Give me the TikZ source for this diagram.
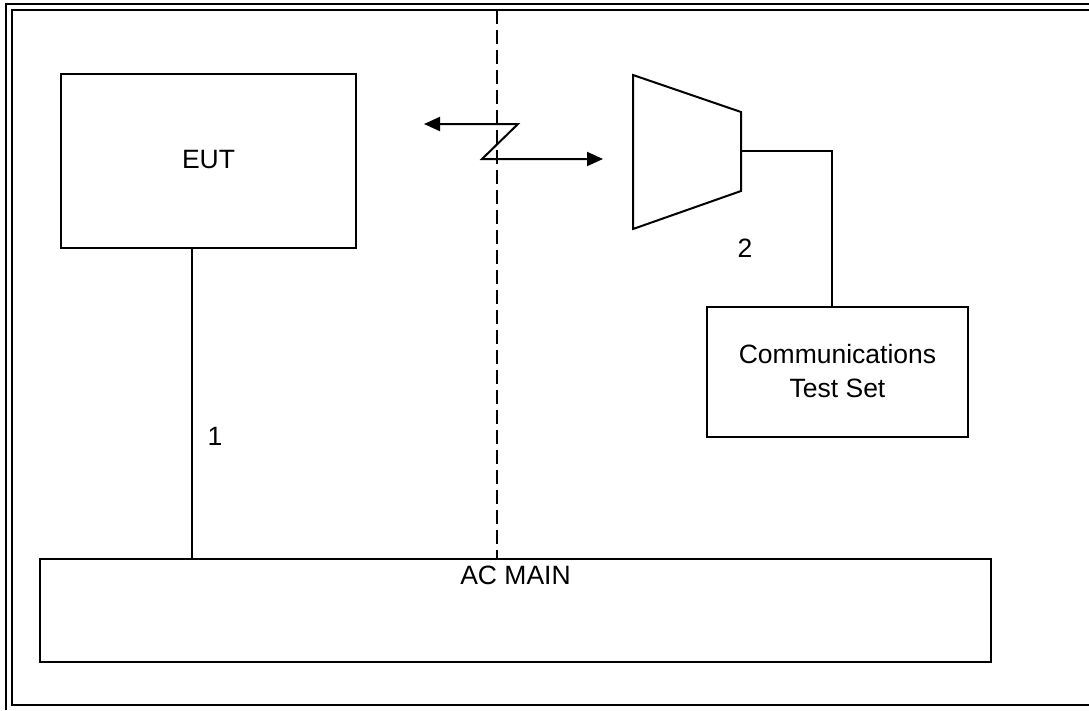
\documentclass[tikz,border=0pt]{standalone}
\usepackage{fontspec}
\setmainfont{Liberation Sans}
\usetikzlibrary{arrows.meta,positioning,calc}

\begin{document}
\begin{tikzpicture}[
  x=1pt, y=-1pt,
  box/.style={draw, line width=2pt, align=center, inner sep=0pt, font=\fontsize{26.5}{34}\selectfont},
  note/.style={align=center, inner sep=0pt, font=\fontsize{26.5}{34}\selectfont},
  wire/.style={line width=1.9pt},
  frame/.style={line width=2.2pt},
  arr/.style={{Triangle[length=16pt,width=14pt]}-{Triangle[length=16pt,width=14pt]}, line width=2pt}
]
\useasboundingbox (0,0) rectangle (1089,710);

% page frame
\draw[frame] (6,710) -- (6,4) -- (1089,4);
\draw[frame] (1089,705) -- (12,705) -- (12,10) -- (1089,10);

% boxes
\node[box, minimum width=295pt, minimum height=174pt] (eut) at (208.5,161) {\raisebox{4pt}{EUT}};
\node[box, minimum width=261pt, minimum height=130pt] (cts) at (837.5,371.5) {Communications\\Test Set};
\node[box, minimum width=951pt, minimum height=103pt] (acmain) at (515.5,610.5) {};
\node[note, anchor=base] (aclabel) at ($(acmain.north)+(0,26)$) {AC MAIN};

% antenna (horn)
\coordinate (hornout) at (741,151);
\draw[wire, line width=2pt] (633,75) -- (741,112) -- (741,191) -- (633,229) -- cycle;
\coordinate (corner) at (832,151);
\draw[wire] (hornout) -- (corner) -- (corner |- cts.north);

% mains cable
\draw[wire] ([xshift=-16.5pt]eut.south) -- ([xshift=-16.5pt]eut.south |- acmain.north);

% boundary
\coordinate (btop) at (497,10);
\draw[wire, dash pattern=on 14pt off 6pt] (btop) -- (btop |- acmain.north);

% radio link
\coordinate (zl) at (424,124);
\coordinate (z1) at (518,124);
\coordinate (z2) at (482,159);
\coordinate (zr) at (603,159);
\draw[arr] (zl) -- (z1) -- (z2) -- (zr);

% cable numbers
\node[note] (n1) at (215,436) {1};
\node[note] (n2) at (745,248) {2};

\end{tikzpicture}
\end{document}
